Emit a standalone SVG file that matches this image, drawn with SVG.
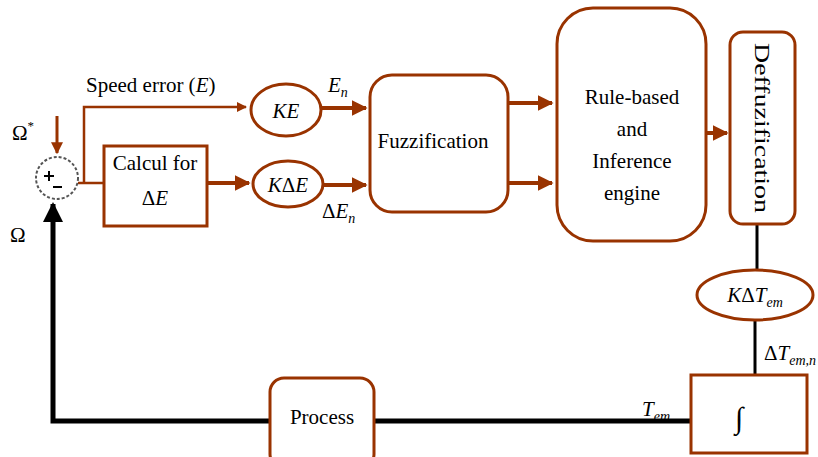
<svg xmlns="http://www.w3.org/2000/svg" width="818" height="457" viewBox="0 0 818 457" font-family="'Liberation Serif', 'DejaVu Serif', serif">
<defs>
<style>
.box{fill:#fff;stroke:#993300;stroke-width:3}
.br{stroke:#993300;fill:none}
.bk{stroke:#000;fill:none}
.t{font-size:21px;font-family:'Liberation Serif','DejaVu Serif',serif;fill:#000}
.i{font-style:italic}
</style>
<marker id="ab" viewBox="0 0 10 10" refX="9" refY="5" markerWidth="4" markerHeight="4" orient="auto" markerUnits="strokeWidth"><path d="M0,0L10,5L0,10z" fill="#993300"/></marker>
<marker id="ak" viewBox="0 0 10 10" refX="9" refY="5" markerWidth="4" markerHeight="4" orient="auto" markerUnits="strokeWidth"><path d="M0,0L10,5L0,10z" fill="#000"/></marker>
</defs>
<rect width="818" height="457" fill="#fff"/>
<g id="connectors">
<path class="br" stroke-width="3" d="M57,116V153" marker-end="url(#ab)"/>
<path class="br" stroke-width="2.5" d="M78,183H104M84,183V107H246" marker-end="url(#ab)"/>
<path class="br" stroke-width="4" d="M207,183H249" marker-end="url(#ab)"/>
<path class="br" stroke-width="4" d="M321,108H366" marker-end="url(#ab)"/>
<path class="br" stroke-width="4" d="M323,185H366" marker-end="url(#ab)"/>
<path class="br" stroke-width="4" d="M508,103H552" marker-end="url(#ab)"/>
<path class="br" stroke-width="4" d="M508,183H552" marker-end="url(#ab)"/>
<path class="br" stroke-width="4" d="M706,133H727" marker-end="url(#ab)"/>
<path class="bk" stroke-width="3" d="M757,224V270"/>
<path class="bk" stroke-width="3" d="M755,320V375"/>
<path class="bk" stroke-width="5" d="M691,421H53V204" marker-end="url(#ak)"/>
</g>
<g id="sum">
<circle cx="57" cy="178" r="21" fill="#fff" stroke="#555" stroke-width="2" stroke-dasharray="3,2"/>
<path d="M44,176h10M49,171v10M53,187h9" stroke="#000" stroke-width="2"/>
</g>
<text class="t" x="12" y="140">Ω<tspan dy="-10" font-size="13">*</tspan></text>
<text class="t" x="10" y="242">Ω</text>
<text class="t" x="86" y="92">Speed error (<tspan class="i">E</tspan>)</text>
<g id="calcul">
<rect class="box" x="104" y="146" width="103" height="80"/>
<text class="t" x="155" y="170" text-anchor="middle">Calcul for</text>
<text class="t" x="155" y="205" text-anchor="middle">Δ<tspan class="i">E</tspan></text>
</g>
<g id="ke">
<ellipse class="box" cx="286" cy="110" rx="35" ry="26"/>
<text class="t i" x="286" y="118" text-anchor="middle">KE</text>
</g>
<g id="kde">
<ellipse class="box" cx="288" cy="184" rx="35" ry="23"/>
<text class="t" x="288" y="192" text-anchor="middle"><tspan class="i">K</tspan>Δ<tspan class="i">E</tspan></text>
</g>
<text class="t i" x="328" y="92">E<tspan font-size="14" dy="5">n</tspan></text>
<text class="t" x="322" y="218">Δ<tspan class="i">E</tspan><tspan class="i" font-size="14" dy="5">n</tspan></text>
<g id="fuzz">
<rect class="box" x="370" y="75" width="138" height="137" rx="22"/>
<text class="t" x="433" y="148" text-anchor="middle">Fuzzification</text>
</g>
<g id="rule">
<rect class="box" x="557" y="8" width="149" height="233" rx="36"/>
<text class="t" x="632" y="104" text-anchor="middle">Rule-based</text>
<text class="t" x="632" y="136" text-anchor="middle">and</text>
<text class="t" x="632" y="168" text-anchor="middle">Inference</text>
<text class="t" x="632" y="200" text-anchor="middle">engine</text>
</g>
<g id="defuzz">
<rect class="box" x="730" y="32" width="65" height="192" rx="13"/>
<text class="t" transform="translate(755,128) rotate(90)" text-anchor="middle" font-size="26" textLength="170" lengthAdjust="spacingAndGlyphs">Deffuzification</text>
</g>
<g id="kdt">
<ellipse class="box" cx="755" cy="295" rx="58" ry="25"/>
<text class="t" x="755" y="302" text-anchor="middle"><tspan class="i">K</tspan>Δ<tspan class="i">T</tspan><tspan class="i" font-size="14" dy="5">em</tspan></text>
</g>
<text class="t" x="764" y="360">Δ<tspan class="i">T</tspan><tspan class="i" font-size="14" dy="5">em,n</tspan></text>
<g id="integ">
<rect class="box" x="691" y="375" width="116" height="78"/>
<text class="t" x="739" y="428" text-anchor="middle" style="font-size:30px">∫</text>
</g>
<g id="process">
<rect class="box" x="270" y="378" width="104" height="90" rx="14"/>
<text class="t" x="322" y="424" text-anchor="middle">Process</text>
</g>
<text class="t i" x="642" y="416">T<tspan font-size="14" dy="5">em</tspan></text>
</svg>
